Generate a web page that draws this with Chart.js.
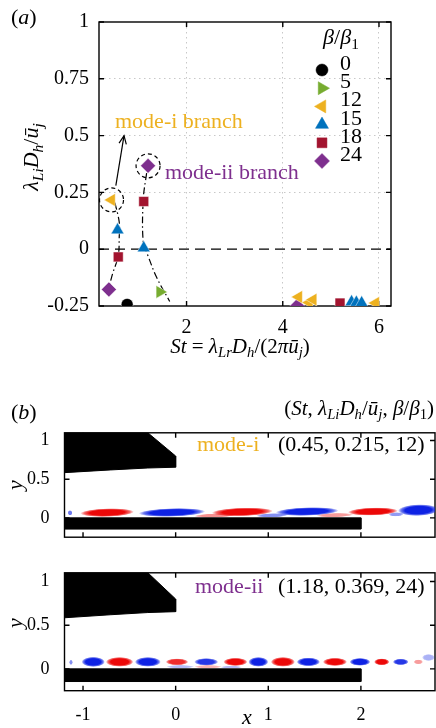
<!DOCTYPE html>
<html lang="en">
<head>
<meta charset="UTF-8">
<title>Global modes: eigenvalues and mode shapes</title>
<script src="https://cdnjs.cloudflare.com/ajax/libs/Chart.js/4.4.1/chart.umd.min.js"></script>
<style>
  html, body { margin: 0; padding: 0; background: #fff; }
  body { width: 436px; height: 728px; position: relative; overflow: hidden;
         font-family: "Liberation Serif", "DejaVu Serif", serif; color: #000; }
  canvas { position: absolute; left: 0; }
  .t { position: absolute; white-space: nowrap; line-height: 1; font-size: 22px; }
  .c { transform: translate(-50%, -50%); }
  .l { transform: translate(0, -50%); }
  .r { transform: translate(-100%, -50%); }
  .rot { transform: translate(-50%, -50%) rotate(-90deg); }
  sub { font-size: 0.7em; vertical-align: -0.3em; line-height: 0; }
</style>
</head>
<body>
<canvas id="chartA" width="436" height="360" style="top:0"></canvas>
<canvas id="chartB1" width="436" height="140" style="top:415px"></canvas>
<canvas id="chartB2" width="436" height="173" style="top:555px"></canvas>

<!-- panel (a) text -->
<div class="t l" style="left:11px; top:17px">(<i>a</i>)</div>
<div class="t rot" style="left:31px; top:157px"><i>λ</i><sub><i>Li</i></sub><i>D</i><sub><i>h</i></sub>/<i>ū</i><sub><i>j</i></sub></div>
<div class="t c" style="left:240px; top:346px; font-size:21px"><i>St</i> = <i>λ</i><sub><i>Lr</i></sub><i>D</i><sub><i>h</i></sub>/(2<i>π</i><i>ū</i><sub><i>j</i></sub>)</div>
<div class="t c" style="left:341px; top:37px"><i>β</i>/<i>β</i><sub>1</sub></div>
<div id="legendText"></div>
<div class="t l" style="left:115px; top:121px; color:#EDB120">mode-i branch</div>
<div class="t l" style="left:165px; top:172px; color:#7E2F8E">mode-ii branch</div>

<!-- panel (b) text -->
<div class="t l" style="left:11px; top:412px">(<i>b</i>)</div>
<div class="t r" style="left:434px; top:408px; font-size:21px">(<i>St</i>, <i>λ</i><sub><i>Li</i></sub><i>D</i><sub><i>h</i></sub>/<i>ū</i><sub><i>j</i></sub>, <i>β</i>/<i>β</i><sub>1</sub>)</div>
<div class="t l" style="left:197px; top:444px; color:#EDB120">mode-i</div>
<div class="t l" style="left:278px; top:444px">(0.45, 0.215, 12)</div>
<div class="t l" style="left:195px; top:586px; color:#7E2F8E">mode-ii</div>
<div class="t l" style="left:278px; top:586px">(1.18, 0.369, 24)</div>
<div class="t rot" style="left:15px; top:485px"><i>y</i></div>
<div class="t rot" style="left:15px; top:623px"><i>y</i></div>
<div class="t c" style="left:247px; top:717px"><i>x</i></div>

<script>
// ---- panel (a): eigenvalues ----
const betaLabels = ['0', '5', '12', '15', '18', '24'];
const stValues = [
  [0.765],
  [1.445],
  [0.44, 4.33, 4.55, 4.63, 5.93],
  [0.565, 1.11, 5.43, 5.53, 5.64],
  [0.58, 1.11, 5.19],
  [0.385, 1.2, 4.3]
];
const growthValues = [
  [-0.243],
  [-0.188],
  [0.217, -0.21, -0.235, -0.222, -0.237],
  [0.084, 0.005, -0.232, -0.235, -0.237],
  [-0.034, 0.21, -0.237],
  [-0.177, 0.367, -0.25]
];
const modeICurveSt = [0.35, 0.46, 0.58, 0.6, 0.6, 0.51];
const modeICurveGrowth = [-0.2, -0.11, -0.03, 0.05, 0.12, 0.205];
const modeIICurveSt = [1.17, 1.1, 1.1, 1.2, 1.38, 1.65];
const modeIICurveGrowth = [0.335, 0.22, 0.03, -0.03, -0.125, -0.23];
const arrowSt = [0.53, 0.70];
const arrowGrowth = [0.28, 0.5];
const circledSt = [0.44, 1.2];
const circledGrowth = [0.217, 0.367];
const zeroLineSt = [0.18, 6.25];
const stTicks = [2, 4, 6];
const growthTicks = [-0.25, 0, 0.25, 0.5, 0.75, 1];

// ---- panel (b): mode shapes ----
const xTicks = [-1, 0, 1, 2];
const yTicks = [0, 0.5, 1];
const nozzleX = [-1.2, -0.3, 0, 0, -0.3, -0.7, -1.2, -1.2];
const nozzleY = [1.1, 1.1, 0.8, 0.655, 0.645, 0.62, 0.585, 1.1];
const plateX = [-1.2, 2, 2, -1.2, -1.2];
const plateY = [0, 0, -0.145, -0.145, 0];
// blob centre x, centre y, half length, half thickness, amplitude (+ red, - blue)
const modeIBlobX = [-1.14, -0.74, -0.04, 0.72, 0.42, 1.42, 1.04, 2.13, 1.72, 2.62, 2.38];
const modeIBlobY = [0.065, 0.068, 0.07, 0.077, 0.03, 0.082, 0.032, 0.082, 0.035, 0.1, 0.045];
const modeIBlobLen = [0.025, 0.29, 0.36, 0.33, 0.22, 0.34, 0.17, 0.27, 0.2, 0.22, 0.08];
const modeIBlobThk = [0.035, 0.055, 0.055, 0.055, 0.028, 0.055, 0.028, 0.052, 0.028, 0.075, 0.028];
const modeIBlobAmp = [-0.6, 1, -1, 1, 0.45, -1, -0.5, 1, 0.4, -1, -0.45];
const modeIIBlobX = [-1.13, -0.89, -0.605, -0.3, 0.015, 0.33, 0.645, 0.893, 1.158, 1.433, 1.72, 1.99, 2.225, 2.43, 2.62, 2.73, 0.05, 0.35, 0.6];
const modeIIBlobY = [0.075, 0.08, 0.08, 0.08, 0.08, 0.08, 0.08, 0.08, 0.08, 0.08, 0.08, 0.08, 0.08, 0.08, 0.08, 0.13, 0.025, 0.025, 0.02];
const modeIIBlobLen = [0.02, 0.126, 0.148, 0.14, 0.122, 0.13, 0.13, 0.108, 0.13, 0.126, 0.13, 0.112, 0.083, 0.085, 0.05, 0.07, 0.15, 0.15, 0.12];
const modeIIBlobThk = [0.03, 0.058, 0.056, 0.056, 0.04, 0.043, 0.047, 0.056, 0.056, 0.05, 0.047, 0.045, 0.04, 0.037, 0.028, 0.04, 0.02, 0.02, 0.015];
const modeIIBlobAmp = [-0.5, -1, 1, -1, 0.85, -0.9, 1, -1, 1, -1, 1, -1, 1, -0.9, 0.4, -0.35, -0.3, 0.3, -0.3];

// styles
const markerColors = ['#000000', '#77AC30', '#EDB120', '#0072BD', '#A2142F', '#7E2F8E'];
const markerStyles = ['circle', 'triangle', 'triangle', 'triangle', 'rect', 'rectRot'];
const markerRotation = [0, 90, -90, 0, 0, 0];
const markerRadius = [6, 7.5, 7.5, 7.5, 7, 7.5];
const serif = 'Liberation Serif';

const pts = (xs, ys) => xs.map((v, i) => ({ x: v, y: ys[i] }));

function drawMark(ctx, style, rot, r, x, y) {
  if (Chart.helpers && Chart.helpers.drawPoint) {
    Chart.helpers.drawPoint(ctx, { pointStyle: style, rotation: rot, radius: r, borderWidth: 0.5 }, x, y);
    return;
  }
  ctx.beginPath();
  ctx.arc(x, y, r, 0, Math.PI * 2);
  ctx.fill();
}

// box with inward ticks on all four sides
const frame = {
  id: 'frame',
  beforeDatasetsDraw(chart) {
    const { ctx, chartArea: a, scales: { x, y } } = chart;
    ctx.save();
    ctx.strokeStyle = '#000';
    ctx.lineWidth = 1.4;
    ctx.setLineDash([]);
    ctx.strokeRect(a.left, a.top, a.right - a.left, a.bottom - a.top);
    ctx.beginPath();
    x.ticks.forEach(t => {
      const p = x.getPixelForValue(t.value);
      ctx.moveTo(p, a.bottom); ctx.lineTo(p, a.bottom - 5);
      ctx.moveTo(p, a.top); ctx.lineTo(p, a.top + 5);
    });
    y.ticks.forEach(t => {
      const p = y.getPixelForValue(t.value);
      ctx.moveTo(a.left, p); ctx.lineTo(a.left + 5, p);
      ctx.moveTo(a.right, p); ctx.lineTo(a.right - 5, p);
    });
    ctx.stroke();
    ctx.restore();
  }
};

// dashed circles, arrow head and legend markers for panel (a)
const annotA = {
  id: 'annotA',
  afterDatasetsDraw(chart) {
    const { ctx, chartArea: a, scales: { x, y } } = chart;
    ctx.save();
    ctx.strokeStyle = '#000';
    ctx.lineWidth = 1.2;
    ctx.setLineDash([4, 3]);
    circledSt.forEach((v, i) => {
      ctx.beginPath();
      ctx.arc(x.getPixelForValue(v), y.getPixelForValue(circledGrowth[i]), 12, 0, Math.PI * 2);
      ctx.stroke();
    });
    ctx.setLineDash([]);
    const x0 = x.getPixelForValue(arrowSt[0]), y0 = y.getPixelForValue(arrowGrowth[0]);
    const x1 = x.getPixelForValue(arrowSt[1]), y1 = y.getPixelForValue(arrowGrowth[1]);
    const ang = Math.atan2(y1 - y0, x1 - x0);
    ctx.beginPath();
    ctx.moveTo(x1 - 9 * Math.cos(ang - 0.42), y1 - 9 * Math.sin(ang - 0.42));
    ctx.lineTo(x1, y1);
    ctx.lineTo(x1 - 9 * Math.cos(ang + 0.42), y1 - 9 * Math.sin(ang + 0.42));
    ctx.stroke();
    betaLabels.forEach((lab, i) => {
      ctx.fillStyle = markerColors[i];
      ctx.strokeStyle = markerColors[i];
      ctx.lineWidth = 0.5;
      drawMark(ctx, markerStyles[i], markerRotation[i], markerRadius[i], a.right - 69, a.top + 48 + i * 18.2);
    });
    ctx.restore();
  }
};

// smooth red/blue vorticity blobs for panel (b)
function blobPlugin(bx, by, bl, bt, ba, tilt) {
  return {
    id: 'blobs',
    beforeDatasetsDraw(chart) {
      const { ctx, chartArea: a, scales: { x, y } } = chart;
      ctx.save();
      ctx.beginPath();
      ctx.rect(a.left, a.top, a.right - a.left, a.bottom - a.top);
      ctx.clip();
      bx.forEach((v, i) => {
        const cx = x.getPixelForValue(v), cy = y.getPixelForValue(by[i]);
        const rx = Math.abs(x.getPixelForValue(v + bl[i]) - cx);
        const ry = Math.abs(y.getPixelForValue(by[i] + bt[i]) - cy);
        const col = ba[i] > 0 ? '236,8,8' : '14,34,228';
        const al = Math.abs(ba[i]);
        ctx.save();
        ctx.translate(cx, cy);
        ctx.rotate(-tilt);
        ctx.scale(rx, ry);
        const g = ctx.createRadialGradient(0, 0, 0, 0, 0, 1);
        g.addColorStop(0, `rgba(${col},${al})`);
        g.addColorStop(0.65, `rgba(${col},${al})`);
        g.addColorStop(0.85, `rgba(${col},${al * 0.6})`);
        g.addColorStop(1, `rgba(${col},0)`);
        ctx.fillStyle = g;
        ctx.beginPath();
        ctx.arc(0, 0, 1, 0, Math.PI * 2);
        ctx.fill();
        ctx.restore();
      });
      ctx.restore();
    }
  };
}

// legend labels as text
const legendBox = document.getElementById('legendText');
betaLabels.forEach((lab, i) => {
  const d = document.createElement('div');
  d.className = 't l';
  d.style.left = '340px';
  d.style.top = (63 + i * 18.2) + 'px';
  d.textContent = lab;
  legendBox.appendChild(d);
});

const tickFont = size => ({ family: serif, size });

new Chart(document.getElementById('chartA'), {
  type: 'scatter',
  data: {
    datasets: [
      ...betaLabels.map((lab, i) => ({
        label: lab,
        data: pts(stValues[i], growthValues[i]),
        pointStyle: markerStyles[i],
        pointRotation: markerRotation[i],
        pointRadius: markerRadius[i],
        backgroundColor: markerColors[i],
        borderColor: 'rgba(255,255,255,0.8)',
        borderWidth: 0.6,
        order: 1
      })),
      { label: 'mode-i', data: pts(modeICurveSt, modeICurveGrowth), showLine: true, tension: 0.35,
        borderColor: '#000', borderWidth: 1.2, borderDash: [7, 3, 1.5, 3], pointRadius: 0, order: 5 },
      { label: 'mode-ii', data: pts(modeIICurveSt, modeIICurveGrowth), showLine: true, tension: 0.35,
        borderColor: '#000', borderWidth: 1.2, borderDash: [7, 3, 1.5, 3], pointRadius: 0, order: 5 },
      { label: 'arrow', data: pts(arrowSt, arrowGrowth), showLine: true,
        borderColor: '#000', borderWidth: 1.2, pointRadius: 0, order: 4 },
      { label: 'zero', data: pts(zeroLineSt, [0, 0]), showLine: true,
        borderColor: '#000', borderWidth: 1.2, borderDash: [10, 6], pointRadius: 0, order: 6 }
    ]
  },
  options: {
    responsive: false,
    animation: false,
    layout: { padding: { top: 15, right: 45, bottom: 0, left: 0 }, autoPadding: false },
    plugins: { legend: { display: false }, tooltip: { enabled: false } },
    scales: {
      x: {
        type: 'linear', min: 0.18, max: 6.25,
        afterBuildTicks: s => { s.ticks = stTicks.map(v => ({ value: v })); },
        afterFit: s => { s.height = 54; },
        grid: { color: '#c8c8c8', lineWidth: 1, drawTicks: false },
        border: { display: false, dash: [1.5, 3.5] },
        ticks: { padding: 10, color: '#000', font: tickFont(20), maxRotation: 0, autoSkip: false, callback: v => String(v) }
      },
      y: {
        type: 'linear', min: -0.25, max: 1,
        afterBuildTicks: s => { s.ticks = growthTicks.map(v => ({ value: v })); },
        afterFit: s => { s.width = 99; },
        grid: { color: c => (c.tick && (c.tick.value === 0 || c.tick.value === 1 || c.tick.value === -0.25)) ? 'rgba(0,0,0,0)' : '#c8c8c8', lineWidth: 1, drawTicks: false },
        border: { display: false, dash: [1.5, 3.5] },
        ticks: { padding: 10, color: '#000', font: tickFont(20), autoSkip: false, callback: v => String(v) }
      }
    }
  },
  plugins: [frame, annotA]
});

function modeChart(id, padTop, xHeight, showX, bx, by, bl, bt, ba, tilt) {
  return new Chart(document.getElementById(id), {
    type: 'scatter',
    data: {
      datasets: [
        { label: 'nozzle', data: pts(nozzleX, nozzleY), showLine: true, fill: 'shape',
          backgroundColor: '#000', borderColor: '#000', borderWidth: 1, pointRadius: 0 },
        { label: 'plate', data: pts(plateX, plateY), showLine: true, fill: 'shape',
          backgroundColor: '#000', borderColor: '#000', borderWidth: 1, pointRadius: 0 }
      ]
    },
    options: {
      responsive: false,
      animation: false,
      layout: { padding: { top: padTop, right: 1, bottom: 0, left: 0 }, autoPadding: false },
      plugins: { legend: { display: false }, tooltip: { enabled: false } },
      scales: {
        x: {
          type: 'linear', min: -1.2, max: 2.8,
          afterBuildTicks: s => { s.ticks = xTicks.map(v => ({ value: v })); },
          afterFit: s => { s.height = xHeight; },
          grid: { display: false },
          border: { display: false },
          ticks: { display: showX, padding: 6, color: '#000', font: tickFont(18), maxRotation: 0, autoSkip: false, callback: v => String(v) }
        },
        y: {
          type: 'linear', min: -0.25, max: 1.1,
          afterBuildTicks: s => { s.ticks = yTicks.map(v => ({ value: v })); },
          afterFit: s => { s.width = 64.5; },
          grid: { display: false },
          border: { display: false },
          ticks: { padding: 7, color: '#000', font: tickFont(18), autoSkip: false, callback: v => String(v) }
        }
      }
    },
    plugins: [frame, blobPlugin(bx, by, bl, bt, ba, tilt)]
  });
}

modeChart('chartB1', 10, 4.3, false, modeIBlobX, modeIBlobY, modeIBlobLen, modeIBlobThk, modeIBlobAmp, 0.03);
modeChart('chartB2', 9.3, 37.3, true, modeIIBlobX, modeIIBlobY, modeIIBlobLen, modeIIBlobThk, modeIIBlobAmp, 0);
</script>
</body>
</html>
